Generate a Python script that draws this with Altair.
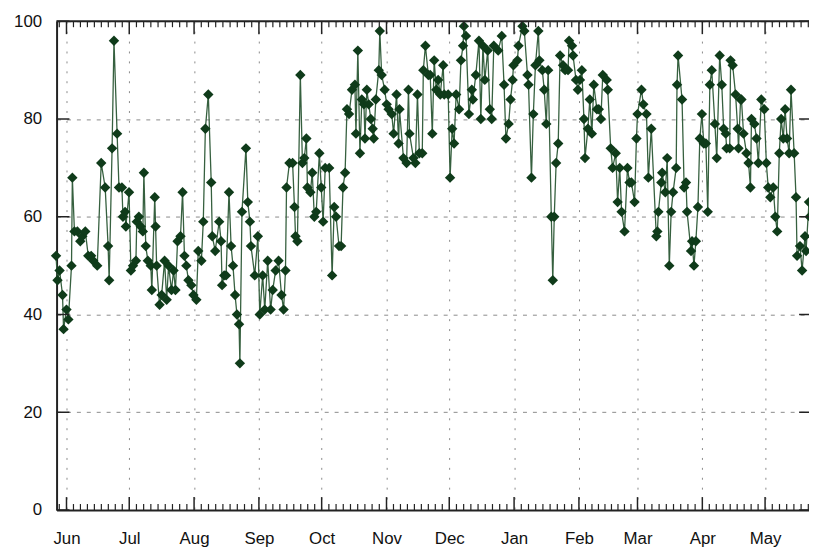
import altair as alt
import pandas as pd

# ---- data (day offsets from 2009-06-01, values) ----
base_date = "2009-06-01"
days = [
    -5.0, -4.3, -3.3, -1.9, -1.4, 0.0, 0.9, 2.4, 2.8, 3.8, 5.2, 6.6, 7.6, 9.0, 10.4, 11.8, 12.8, 14.7,
    16.6, 18.5, 19.9, 20.4, 21.8, 22.7, 24.2, 25.1, 26.5, 27.0, 28.0, 28.4, 29.9, 30.8, 31.8, 33.2,
    33.6, 34.6, 35.5, 36.5, 37.0, 37.9, 38.9, 40.3, 40.8, 42.2, 42.6, 43.1, 44.5, 45.5, 46.9, 47.9,
    48.8, 50.2, 51.2, 52.1, 53.1, 54.5, 55.5, 56.4, 57.3, 58.3, 59.7, 60.7, 62.1, 63.0, 64.5, 65.4,
    66.4, 67.8,
    69.2, 69.7, 71.1, 73.0, 73.9, 74.4, 75.4, 76.3, 77.7, 78.7, 79.6, 80.6, 81.5, 82.5, 82.9, 83.9,
    85.8, 86.7, 87.7, 88.2, 90.0, 91.5, 92.4, 93.8, 94.8, 96.2, 97.6, 98.6, 100.0, 101.4, 102.8,
    103.8, 104.7, 105.2, 106.6, 108.1, 109.0, 109.5, 110.4, 111.8, 112.8, 113.7, 114.7, 115.2, 116.6,
    117.5, 118.5, 119.4, 120.9, 121.8, 122.7, 123.7, 125.6, 127.0, 128.0, 128.9, 130.3, 131.3, 132.2,
    133.2,
    134.1, 135.1, 136.5, 137.9, 138.4, 139.3, 140.3, 141.2, 142.2, 142.7, 143.6, 144.5, 145.5, 146.4,
    146.9, 147.9, 149.3, 149.8, 150.7, 152.1, 153.1, 154.0, 155.5, 156.4, 157.8, 158.8, 159.2, 161.1,
    162.6, 163.5, 164.0, 165.9, 166.8, 167.8, 168.7, 170.1, 170.6, 171.6, 173.0, 173.9, 174.9, 175.8,
    176.8, 177.7, 178.7, 180.1, 180.6, 182.5, 183.4, 184.4, 185.3, 186.3, 187.7, 188.6, 189.6, 190.0,
    191.0, 192.4, 193.8, 194.3, 195.7, 197.2, 198.1, 199.1, 200.0, 201.4, 202.4, 203.3, 204.3, 206.4,
    208.1, 209.2, 210.1,
    211.4, 212.3, 213.3, 213.7, 215.6, 216.1, 218.0, 218.9, 220.4, 220.9, 222.3, 223.2, 224.2, 225.6,
    226.1, 227.5, 228.4, 229.4, 230.3, 231.8, 232.5, 233.2, 234.1, 235.1, 236.0, 237.4, 238.4, 239.8,
    240.3, 241.7, 242.2, 243.6, 244.5, 245.5, 246.4, 247.4, 247.9, 249.3, 250.2, 251.2, 252.1, 253.6,
    254.5, 255.5, 256.4, 258.3, 258.8, 260.2, 261.1, 262.6, 263.5, 264.5, 265.4, 266.8, 268.2, 269.2,
    270.1, 271.6, 272.5, 273.0, 274.9, 275.8, 277.3, 278.2, 279.6,
    282.0, 282.5, 283.0, 284.4, 284.8, 286.3, 287.2, 288.2, 289.1, 290.0, 291.5, 291.9, 292.4, 294.3,
    295.3, 296.2, 296.7, 298.6, 299.1, 300.0, 300.9, 301.9, 302.8, 303.8, 304.7, 305.7, 306.6, 307.6,
    308.5, 310.0, 310.9, 312.3, 313.3, 314.2, 315.2, 315.6, 317.1, 317.5, 318.5, 319.9, 320.9, 321.3,
    322.3, 322.7, 323.7, 325.1, 326.1, 327.0, 327.5, 328.9, 329.9, 330.8, 332.2, 333.6, 334.6, 335.5,
    336.5, 337.9, 338.9, 339.8, 340.8, 341.7, 342.7, 343.6, 344.5, 345.5, 346.4, 347.9, 348.8, 349.3,
    350.7, 351.7, 353.1, 353.6, 355.0, 355.3,
]
values = [
    52, 47, 49, 44, 37, 41, 39, 50, 68, 57, 57, 55, 56, 57, 52, 52, 51, 50,
    71, 66, 54, 47, 74, 96, 77, 66, 66, 60, 61, 58, 65, 49, 50, 51,
    59, 60, 58, 57, 69, 54, 51, 50, 45, 64, 58, 50, 42, 44, 51, 43,
    50, 45, 49, 45, 55, 56, 65, 52, 50, 47, 46, 44, 43, 53, 51, 59,
    78, 85,
    67, 56, 53, 59, 55, 46, 48, 48, 65, 54, 50, 44, 40, 38, 30, 61,
    74, 63, 59, 54, 48, 56, 40, 48, 41, 51, 41, 45, 49, 51, 44,
    41, 49, 66, 71, 71, 62, 56, 55, 89, 71, 72, 76, 66, 65,
    69, 60, 61, 73, 66, 59, 70, 70, 48, 62, 60, 54, 54, 66,
    69,
    82, 81, 86, 87, 77, 94, 73, 84, 83, 76, 86, 83, 80, 78,
    76, 84, 90, 98, 89, 86, 83, 82, 81, 77, 85, 75, 82, 72,
    71, 86, 77, 72, 71, 85, 73, 73, 90, 95, 89, 89, 77, 92,
    86, 88, 85, 91, 85, 85, 68, 78, 75, 85, 82, 92, 95, 99,
    97, 81, 86, 84, 89, 96, 80, 95, 88, 94, 82, 80, 95, 94,
    97, 87, 76,
    79, 84, 88, 91, 92, 95, 99, 98, 89, 87, 68, 81, 91, 98,
    92, 90, 86, 79, 90, 60, 47, 60, 71, 75, 93, 91, 90, 90,
    96, 95, 93, 88, 86, 88, 90, 80, 72, 78, 84, 77, 87, 82,
    82, 80, 89, 88, 86, 74, 70, 73, 63, 70, 61, 57, 70, 67,
    67, 63, 76, 81, 86, 83, 81, 68, 78,
    56, 57, 61, 67, 69, 65, 72, 50, 61, 65, 70, 87, 93, 84,
    66, 67, 61, 53, 55, 50, 55, 62, 76, 81, 75, 75, 61, 87,
    90, 79, 72, 93, 87, 78, 77, 74, 74, 92, 91, 85, 78, 74,
    84, 84, 77, 73, 71, 66, 80, 79, 76, 71, 84, 82, 71, 66,
    64, 66, 60, 57, 73, 80, 76, 82, 76, 73, 86, 73, 64, 52,
    54, 49, 56, 53, 63, 60,
]
month_starts = ["2009-06-01", "2009-07-01", "2009-08-01", "2009-09-01", "2009-10-01", "2009-11-01",
                "2009-12-01", "2010-01-01", "2010-02-01", "2010-03-01", "2010-04-01", "2010-05-01"]
y_ticks = [0, 20, 40, 60, 80, 100]

# ---- styling ----
FONT = "Liberation Sans"
AX = "#222222"
GRID = "#8a8a8a"
LINE_C = "#36603f"
PT_C = "#0f3b1a"
W, H = 759, 493

start = pd.Timestamp(base_date)
df = pd.DataFrame({"date": start + pd.to_timedelta(days, unit="D"), "value": values})

dom_start = start + pd.Timedelta(days=-4.74)
dom_end = start + pd.Timedelta(days=355.0)

months = pd.date_range("2009-05-01", "2010-06-01", freq="MS")
minor = []
for a, b in zip(months[:-1], months[1:]):
    for k in range(1, 9):
        t = a + (b - a) * k / 9
        if dom_start <= t <= dom_end:
            minor.append(t)

major_df = pd.DataFrame({"date": pd.to_datetime(month_starts)})
minor_df = pd.DataFrame({"date": minor})
ytick_df = pd.DataFrame({"value": y_ticks})
one_df = pd.DataFrame({"a": [0]})

xscale = alt.Scale(
    domain=[alt.DateTime(year=2009, month=5, date=27, hours=6, minutes=14),
            alt.DateTime(year=2010, month=5, date=22)],
    nice=False,
)
yscale = alt.Scale(domain=[0, 100], nice=False, zero=False)

x_axis = alt.Axis(format="%b", tickCount="month", grid=True, gridDash=[2, 8], gridColor=GRID,
                  gridWidth=1, ticks=False, domain=True, domainColor=AX, domainWidth=2,
                  labelFont=FONT, labelFontSize=17, labelColor="#111111", labelPadding=21,
                  labelFlush=False, labelOverlap=False, title=None)
y_axis = alt.Axis(values=y_ticks, grid=True, gridDash=[4, 6], gridColor=GRID, gridWidth=1,
                  ticks=False, domain=True, domainColor=AX, domainWidth=2,
                  labelFont=FONT, labelFontSize=17, labelColor="#111111", labelPadding=15,
                  labelFlush=False, title=None)

X = alt.X("date:T", scale=xscale, axis=x_axis)
Y = alt.Y("value:Q", scale=yscale, axis=y_axis)

main = alt.Chart(df).mark_line(
    color=LINE_C, strokeWidth=1.3,
    point=alt.OverlayMarkDef(shape="diamond", filled=True, size=110, color=PT_C, opacity=1),
).encode(x=X, y=Y)


def xticks(data, y0, y1, sw):
    return alt.Chart(data).mark_rule(color=AX, strokeWidth=sw).encode(
        x=X, y=alt.value(y0), y2=alt.value(y1),
    )


def yticks(x0, x1):
    return alt.Chart(ytick_df).mark_rule(color=AX, strokeWidth=1.5).encode(
        y=Y, x=alt.value(x0), x2=alt.value(x1),
    )


top_border = alt.Chart(one_df).mark_rule(color=AX, strokeWidth=2).encode(
    y=alt.value(0), x=alt.value(0), x2=alt.value(W)
)

chart = alt.layer(
    main,
    xticks(major_df, H, H - 13, 1.5), xticks(major_df, 0, 13, 1.5),
    xticks(minor_df, H, H - 6, 1.2), xticks(minor_df, 0, 6, 1.2),
    yticks(0, 13), yticks(W - 10, W),
    top_border,
).properties(
    width=W, height=H,
    padding={"left": 49, "top": 11, "right": 0, "bottom": 40},
    autosize=alt.AutoSizeParams(type="none"),
    background="white",
).configure_view(stroke=None)

chart.save("out.html", embed_options={"renderer": "svg", "actions": False})
